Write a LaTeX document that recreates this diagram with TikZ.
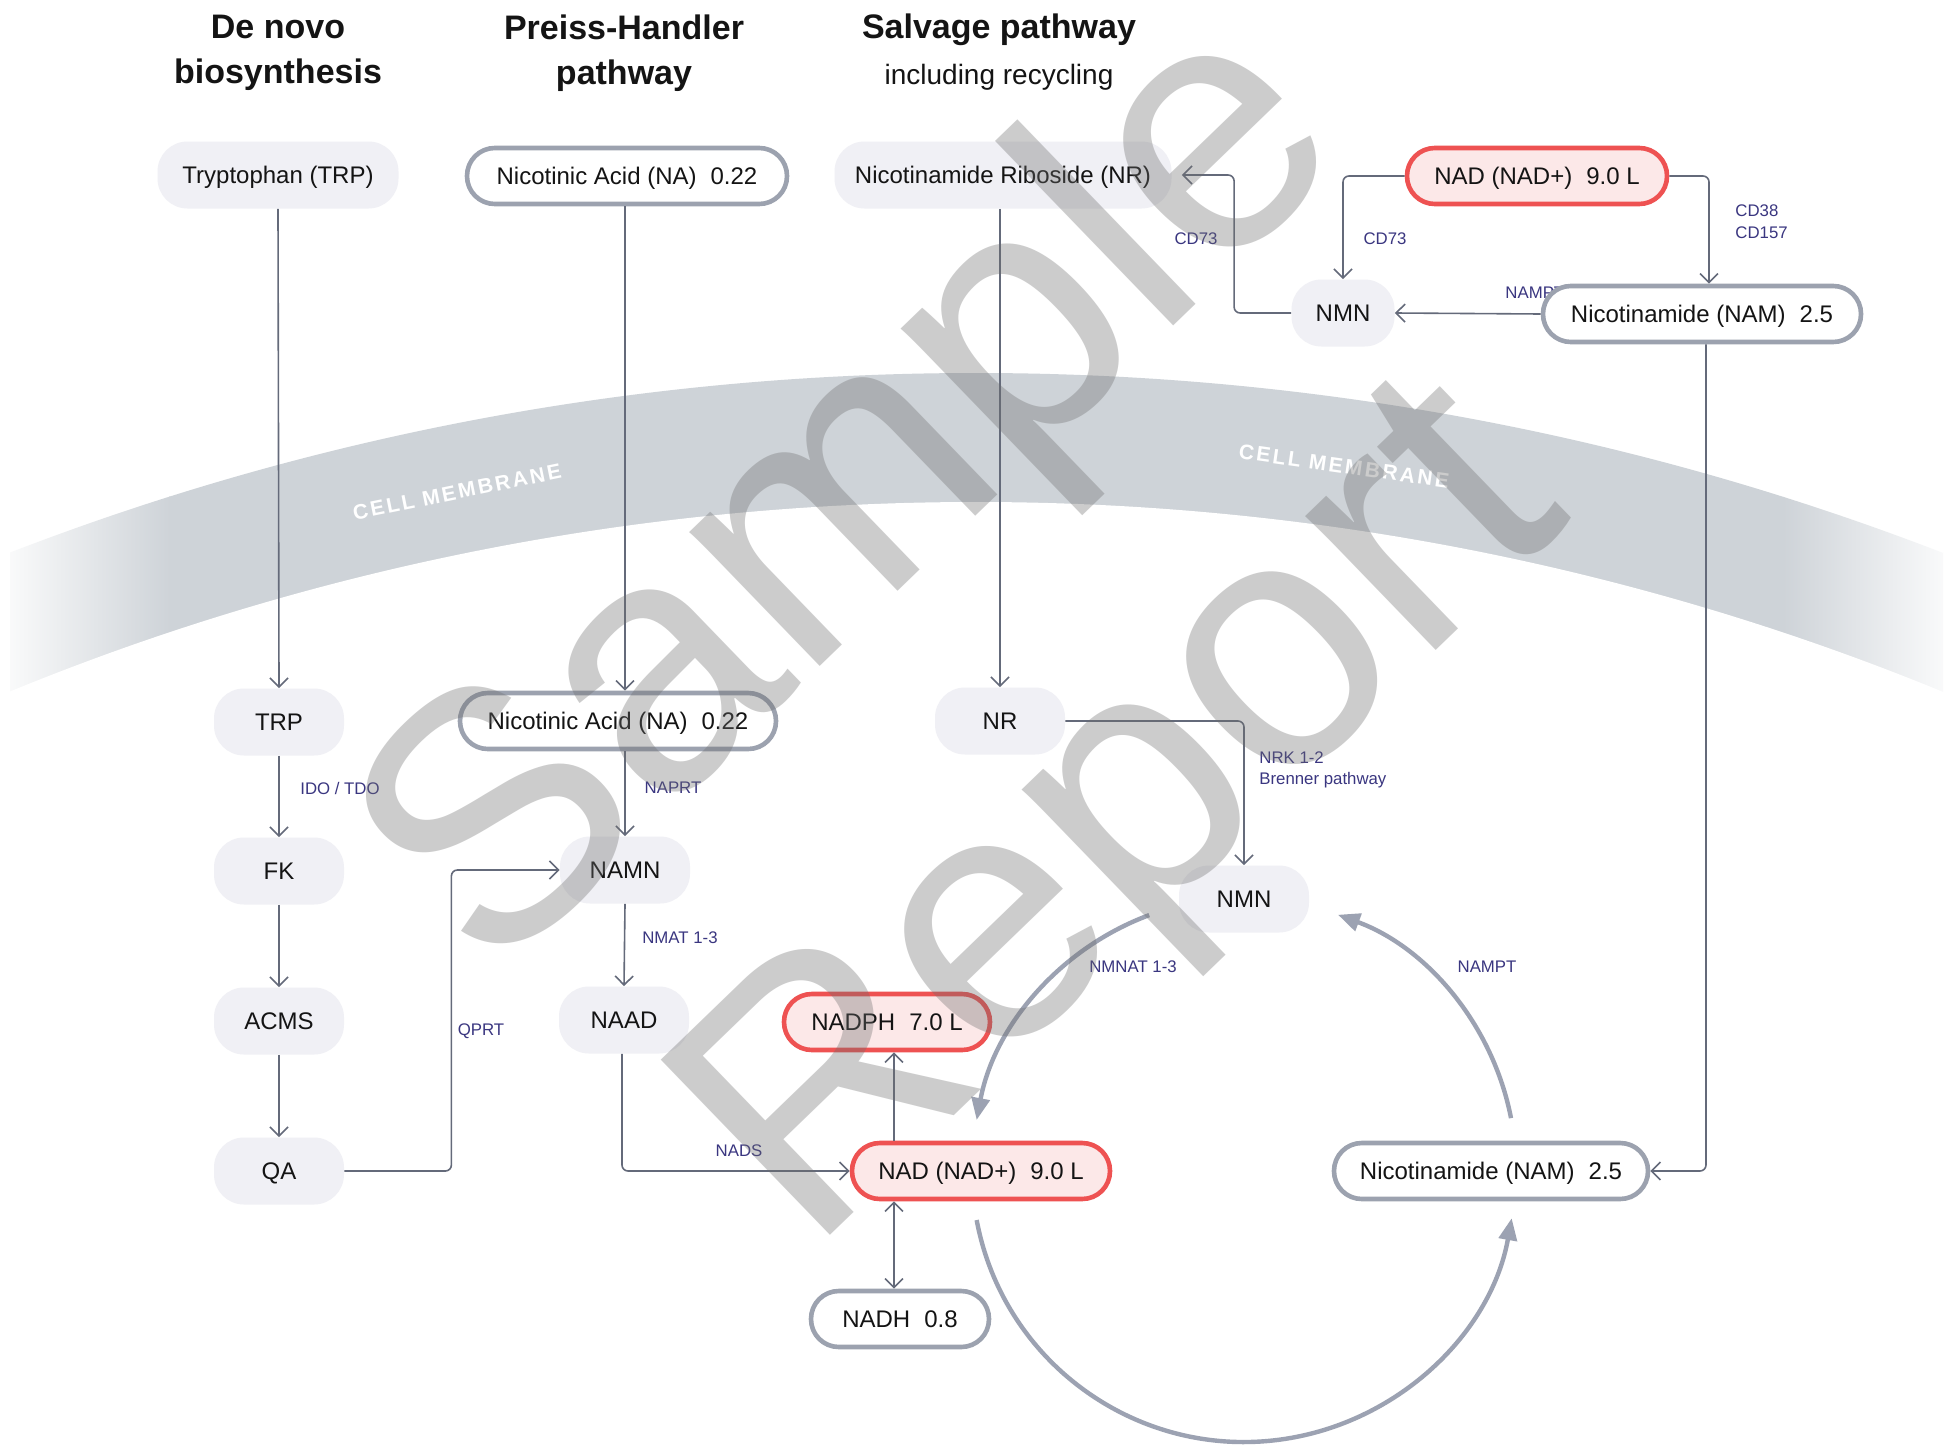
\documentclass[tikz,border=0pt]{standalone}
\usepackage{fontspec}
\setmainfont{Liberation Sans}
\newfontfamily\memfont[LetterSpace=12]{Liberation Sans}
\usetikzlibrary{arrows.meta,calc}
\definecolor{boxgray}{RGB}{240,240,245}
\definecolor{bordergray}{RGB}{156,162,175}
\definecolor{nadred}{RGB}{238,82,82}
\definecolor{nadpink}{RGB}{252,232,232}
\definecolor{linegray}{RGB}{100,106,122}
\definecolor{curvegray}{RGB}{156,162,178}
\definecolor{lblblue}{RGB}{58,54,128}
\definecolor{membrane}{RGB}{206,211,216}
\definecolor{wmgray}{RGB}{110,110,110}
\begin{document}
\begin{tikzpicture}[x=0.5pt,y=-0.5pt,
  boxfont/.style={font=\fontsize{12}{14}\selectfont, text height=8.6pt, text depth=0pt},
  gbox/.style={fill=boxgray, rounded corners=15pt, minimum height=33.5pt, minimum width=#1, inner sep=0pt, boxfont, text=black!92},
  gbox/.default=65pt,
  obox/.style={draw=bordergray, line width=2.3pt, fill=white, rounded corners=13.9pt, minimum height=28pt, minimum width=#1, inner sep=0pt, boxfont, text=black!92},
  rbox/.style={obox=#1, draw=nadred, fill=nadpink},
  lbl/.style={text=lblblue, font=\fontsize{8.4}{10.8}\selectfont, inner sep=0pt},
  head/.style={font=\bfseries\fontsize{17}{22.5}\selectfont, align=center, text=black!92, inner sep=0pt},
  memtxt/.style={text=white, font=\memfont\bfseries\fontsize{10.5}{12}\selectfont, inner sep=0pt},
  conn/.style={draw=linegray, line width=0.8pt, rounded corners=3pt, -{Straight Barb[length=4.5pt,width=9pt]}},
  connboth/.style={draw=linegray, line width=0.8pt, {Straight Barb[length=4.5pt,width=9pt]}-{Straight Barb[length=4.5pt,width=9pt]}},
  curv/.style={draw=curvegray, line width=2.2pt, -{Triangle[length=11pt,width=9pt]}},
  wm/.style={text=wmgray, text opacity=0.35, font=\fontsize{177}{180}\selectfont, inner sep=0pt}
]
\useasboundingbox (0,0) rectangle (1953,1445);
\fill[white] (0,0) rectangle (1953,1445);

% ---------- cell membrane ----------
\begin{scope}
  \clip (10,0) rectangle (1943,1445);
  \clip (976,3050) circle[radius=2677];
  \shade[left color=membrane!12!white, right color=membrane] (10,300) rectangle (170,800);
  \fill[membrane] (169,300) rectangle (1784,800);
  \shade[left color=membrane, right color=membrane!12!white] (1783,300) rectangle (1943,800);
\end{scope}
\fill[white] (976,3050) circle[radius=2548];
\node[memtxt, rotate=11.5] (mem1) at (457,492) {CELL MEMBRANE};
\node[memtxt, rotate=-8.1] (mem2) at (1344,466) {CELL MEMBRANE};

% ---------- headers ----------
\node[head] (h1) at (278,53) {De novo\\biosynthesis};
\node[head] (h2) at (624,53) {Preiss-Handler\\pathway};
\node[head] (h3) at (999,30) {Salvage pathway};
\node[font=\fontsize{14}{16}\selectfont, text=black!92, inner sep=0pt] (h4) at (999,77) {including recycling};

% label partly hidden under the NAM box
\node[lbl, anchor=west] (lnampt1) at (1505,293) {NAMPT};

% ---------- nodes ----------
\node[gbox=120.5pt] (tryp) at (278,175) {Tryptophan (TRP)};
\node[obox=160pt] (nat) at (627,176) {Nicotinic Acid (NA)\hspace{7pt}0.22};
\node[gbox=168.5pt] (nrt) at (1003,175) {Nicotinamide Riboside (NR)};
\node[rbox=130pt] (nadt) at (1537,176) {NAD (NAD+)\hspace{7pt}9.0 L};
\node[gbox=51.5pt] (nmnt) at (1343,313) {NMN};
\node[obox=159pt] (namt) at (1702,314) {Nicotinamide (NAM)\hspace{7pt}2.5};

\node[gbox] (trp) at (279,722) {TRP};
\node[obox=158pt] (nal) at (618,721) {Nicotinic Acid (NA)\hspace{7pt}0.22};
\node[gbox] (nrl) at (1000,721) {NR};
\node[gbox] (fk) at (279,871) {FK};
\node[gbox] (namn) at (625,870) {NAMN};
\node[gbox] (nmnl) at (1244,899) {NMN};
\node[gbox] (acms) at (279,1021) {ACMS};
\node[gbox] (naad) at (624,1020) {NAAD};
\node[rbox=103pt] (nadph) at (887,1022) {NADPH\hspace{7pt}7.0 L};
\node[gbox] (qa) at (279,1171) {QA};
\node[rbox=129pt] (nadl) at (981,1171) {NAD (NAD+)\hspace{7pt}9.0 L};
\node[obox=157pt] (naml) at (1491,1171) {Nicotinamide (NAM)\hspace{7pt}2.5};
\node[obox=89pt] (nadh) at (900,1319) {NADH\hspace{7pt}0.8};

% ---------- connectors ----------
\draw[conn] (nadt.west) -| (nmnt.north);
\draw[conn] (nadt.east) -| ([xshift=3.5pt]namt.north);
\draw[conn] (namt.west) -- (nmnt.east);
\draw[conn] (nmnt.west) -- ++(-57,0) |- ([xshift=5pt]nrt.east);
\draw[conn] ([xshift=2pt]namt.south) |- (naml.east);

\draw[conn] (tryp.south) -- (trp.north);
\draw[conn] (nat.south -| namn.north) -- (nal.north -| namn.north);
\draw[conn] (nrt.south -| nrl.north) -- (nrl.north);

\draw[conn] (trp.south) -- (fk.north);
\draw[conn] (fk.south) -- (acms.north);
\draw[conn] (acms.south) -- (qa.north);
\draw[conn] (qa.east) -- ++(107,0) |- (namn.west);
\draw[conn] (nal.south -| namn.north) -- (namn.north);
\draw[conn] (namn.south) -- (naad.north);
\draw[conn] ([xshift=-1pt]naad.south) |- (nadl.west);
\draw[conn] (nrl.east) -| (nmnl.north);
\draw[conn] ([xshift=-43.5pt]nadl.north) -- ([xshift=-43.5pt]nadl.north |- nadph.south);
\draw[connboth] ([xshift=-43.5pt]nadl.south) -- ([xshift=-43.5pt]nadl.south |- nadh.north);

% ---------- cycle arcs ----------
\coordinate (cc) at (1244,1170);
\draw[curv] (cc) ++(-110.4:272) arc[start angle=-110.4, end angle=-169.4, radius=272];
\draw[curv] (cc) ++(-11:272) arc[start angle=-11, end angle=-69.8, radius=272];
\draw[curv] (cc) ++(169.4:272) arc[start angle=169.4, end angle=10.2, radius=272];

% ---------- enzyme labels ----------
\node[lbl] (lcd73a) at (1196,239) {CD73};
\node[lbl] (lcd73b) at (1385,239) {CD73};
\node[lbl, anchor=west, align=left] (lcd38) at (1735,222) {CD38\\CD157};
\node[lbl] (lido) at (340,788) {IDO / TDO};
\node[lbl] (lnaprt) at (673,788) {NAPRT};
\node[lbl] (lnmat) at (680,938) {NMAT 1-3};
\node[lbl] (lqprt) at (481,1031) {QPRT};
\node[lbl] (lnads) at (739,1151) {NADS};
\node[lbl, anchor=west, align=left] (lnrk) at (1259,770) {NRK 1-2\\Brenner pathway};
\node[lbl] (lnmnat) at (1133,967) {NMNAT 1-3};
\node[lbl] (lnampt2) at (1487,967) {NAMPT};

% ---------- watermark ----------
\node[wm, rotate=44] (wm1) at (859,502) {Sample};
\node[wm, rotate=44] (wm2) at (1133,825) {Report};
\end{tikzpicture}
\end{document}
